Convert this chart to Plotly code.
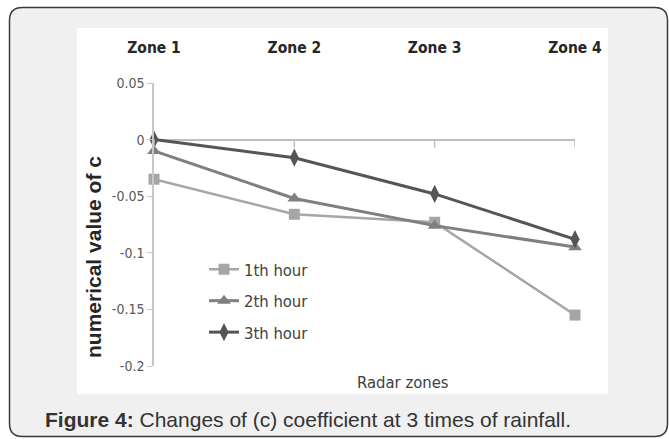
import plotly.graph_objects as go

# ---- data ----
zones = ["Zone 1", "Zone 2", "Zone 3", "Zone 4"]
hour1 = [-0.035, -0.066, -0.073, -0.155]
hour2 = [-0.010, -0.052, -0.076, -0.095]
hour3 = [0.000, -0.016, -0.048, -0.088]
series_names = ["1th hour", "2th hour", "3th hour"]
y_ticks = [0.05, 0, -0.05, -0.1, -0.15, -0.2]
y_tick_text = ["0.05", "0", "-0.05", "-0.1", "-0.15", "-0.2"]

# ---- layout geometry (pixels) ----
FW, FH = 669, 439
L, R, T, B = 154, 575, 83, 366
PW, PH = R - L, B - T


def px(x):
    return (x - L) / PW


def py(y):
    return (B - y) / PH


NARROW = "DejaVu Sans Condensed, Liberation Sans Narrow, sans-serif"
ARIAL = "Liberation Sans, Arial, sans-serif"

fig = go.Figure()
styles = [
    dict(color="#a6a6a6", width=2.5, symbol="square", size=11),
    dict(color="#7f7f7f", width=3, symbol="triangle-up", size=12),
    dict(color="#555555", width=3, symbol="diamond-tall", size=13),
]
for name, vals, st in zip(series_names, [hour1, hour2, hour3], styles):
    fig.add_trace(go.Scatter(
        x=zones, y=vals, name=name, mode="lines+markers",
        line=dict(color=st["color"], width=st["width"]),
        marker=dict(symbol=st["symbol"], size=st["size"], color=st["color"]),
        cliponaxis=False, legendgroup=name,
    ))

shapes = []
# rounded outer panel
x0, x1, y0, y1, r = 9.5, 667.5, 7.5, 436.5, 13


def P(x, y):
    return f"{px(x):.5f},{py(y):.5f}"


path = (f"M {P(x0 + r, y0)} L {P(x1 - r, y0)} Q {P(x1, y0)} {P(x1, y0 + r)} "
        f"L {P(x1, y1 - r)} Q {P(x1, y1)} {P(x1 - r, y1)} "
        f"L {P(x0 + r, y1)} Q {P(x0, y1)} {P(x0, y1 - r)} "
        f"L {P(x0, y0 + r)} Q {P(x0, y0)} {P(x0 + r, y0)} Z")
shapes.append(dict(type="path", path=path, xref="paper", yref="paper",
                   fillcolor="#f0f0f0", line=dict(color="#3a3a3a", width=1.5),
                   layer="below"))
# white chart image area
shapes.append(dict(type="rect", xref="paper", yref="paper",
                   x0=px(77), x1=px(608), y0=py(394), y1=py(28),
                   fillcolor="white", line=dict(width=0), layer="below"))
# tick marks on the horizontal axis crossing at 0
for z in zones:
    shapes.append(dict(type="line", xref="x", yref="y", x0=z, x1=z,
                       ysizemode="pixel", yanchor=0, y0=0, y1=-8,
                       line=dict(color="#bfbfbf", width=1.5)))

annotations = [
    dict(text="Radar zones", x=px(403), y=py(382), xref="paper", yref="paper",
         showarrow=False, font=dict(family=NARROW, size=16.5, color="#404040"),
         xanchor="center", yanchor="middle"),
    dict(text="<b>numerical value of c</b>", x=px(93), y=py(257), xref="paper",
         yref="paper", showarrow=False, textangle=-90,
         font=dict(family=ARIAL, size=21, color="#262626"),
         xanchor="center", yanchor="middle"),
    dict(text="<b>Figure 4:</b> Changes of (c) coefficient at 3 times of rainfall.",
         x=px(43), y=py(419), xref="paper", yref="paper", showarrow=False,
         font=dict(family=ARIAL, size=21, color="#333333"),
         xanchor="left", yanchor="middle"),
]

fig.update_layout(
    width=FW, height=FH,
    margin=dict(l=L, r=FW - R, t=T, b=FH - B, pad=0),
    paper_bgcolor="white", plot_bgcolor="rgba(0,0,0,0)",
    shapes=shapes, annotations=annotations,
    showlegend=True,
    legend=dict(x=px(204), y=py(252), xanchor="left", yanchor="top",
                bgcolor="rgba(0,0,0,0)", tracegroupgap=7,
                font=dict(family=NARROW, size=16.5, color="#404040")),
    xaxis=dict(type="category", side="top", range=[0, 3],
               showgrid=False, zeroline=False, showline=False,
               ticks="outside", ticklen=23, tickcolor="rgba(0,0,0,0)",
               tickfont=dict(family=NARROW, size=15.5, color="#262626"),
               tickprefix="<b>", ticksuffix="</b>"),
    yaxis=dict(range=[-0.2, 0.05], tickvals=y_ticks, ticktext=y_tick_text,
               showgrid=False, zeroline=True, zerolinecolor="#bfbfbf",
               zerolinewidth=1.5, showline=True, linecolor="#c8c8c8",
               linewidth=1.5, ticks="outside", ticklen=5, tickcolor="#c8c8c8",
               tickfont=dict(family=NARROW, size=14, color="#595959")),
)

fig.write_html("out.html")
